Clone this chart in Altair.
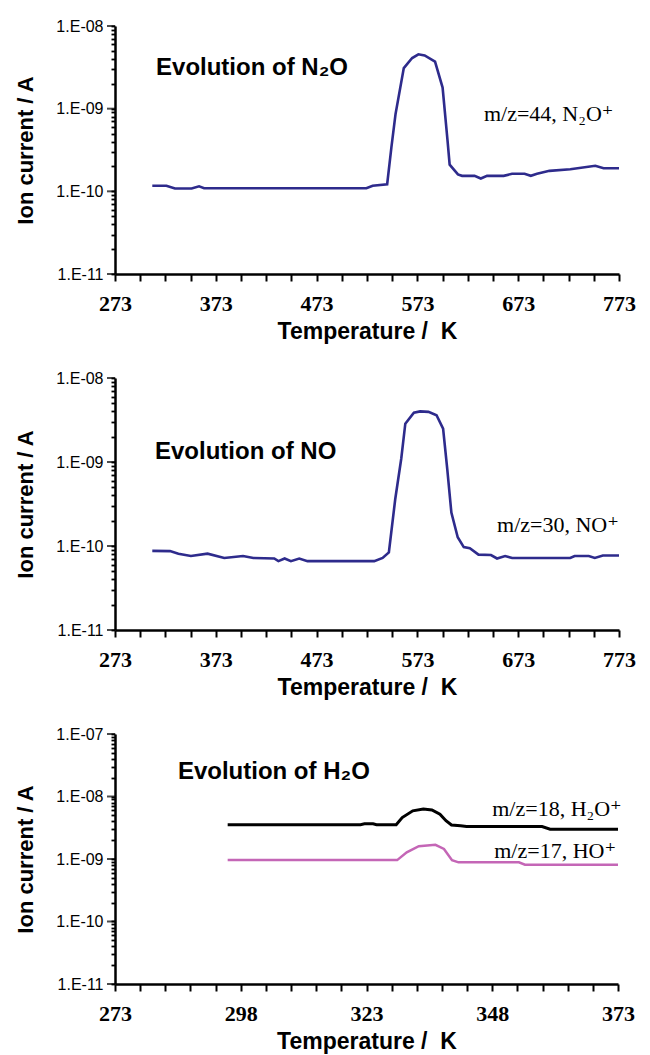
import altair as alt
import pandas as pd

# ---------------- data ----------------
n2o_T = [310, 324, 332.5, 349, 356.4, 361.4, 522.4, 528.6, 543, 547.2, 551.3, 559.5,
         567.8, 574, 580.2, 590.5, 598, 602.9, 605, 613.2, 617.3, 629.7, 635.9, 642.1,
         658.6, 666.9, 679.3, 685.5, 691.7, 704, 724.7, 749.5, 757.7, 773]
n2o_I = [1.17e-10, 1.17e-10, 1.08e-10, 1.08e-10, 1.15e-10, 1.09e-10, 1.09e-10, 1.17e-10,
         1.22e-10, 3.4e-10, 8.6e-10, 3.1e-9, 4.1e-9, 4.55e-9, 4.4e-9, 3.7e-9, 1.8e-9,
         4.1e-10, 2.1e-10, 1.6e-10, 1.54e-10, 1.54e-10, 1.43e-10, 1.54e-10, 1.54e-10,
         1.63e-10, 1.63e-10, 1.54e-10, 1.63e-10, 1.77e-10, 1.85e-10, 2.04e-10, 1.9e-10, 1.9e-10]

no_T = [310, 327.6, 335.9, 348.3, 364.8, 381.4, 400, 410.3, 431, 435.1, 441.3, 447.5,
        455.8, 464, 530.2, 538.5, 544.7, 551, 557, 561, 569.5, 575.7, 584, 592, 598.5,
        602.6, 606.7, 613, 619, 625, 633.6, 646, 652, 660, 667, 724.6, 729, 743, 749, 757, 773]
no_I = [8.75e-11, 8.7e-11, 8.1e-11, 7.6e-11, 8.1e-11, 7.2e-11, 7.6e-11, 7.2e-11, 7.1e-11,
        6.6e-11, 7.1e-11, 6.6e-11, 7.1e-11, 6.6e-11, 6.6e-11, 7.2e-11, 8.4e-11, 3.6e-10,
        1.1e-9, 2.86e-9, 3.86e-9, 4.0e-9, 3.95e-9, 3.6e-9, 2.5e-9, 8.3e-10, 2.5e-10,
        1.27e-10, 9.7e-11, 9.4e-11, 7.9e-11, 7.8e-11, 7.1e-11, 7.6e-11, 7.2e-11, 7.2e-11,
        7.6e-11, 7.6e-11, 7.2e-11, 7.7e-11, 7.7e-11]

h2o_T = [295.4, 321.8, 322.6, 324.3, 325, 328.9, 330.1, 332.2, 334.3, 336, 337.6, 338.8,
         339.9, 341.7, 342.9, 357.9, 359.5, 373]
h2o_I = [3.54e-9, 3.54e-9, 3.65e-9, 3.65e-9, 3.54e-9, 3.54e-9, 4.6e-9, 5.9e-9, 6.3e-9,
         6.1e-9, 5.2e-9, 4.1e-9, 3.5e-9, 3.4e-9, 3.3e-9, 3.3e-9, 3.0e-9, 3.0e-9]

ho_T = [295.4, 329.1, 331, 333.4, 336.7, 338.4, 340, 341.3, 353.3, 354.5, 373]
ho_I = [9.6e-10, 9.6e-10, 1.28e-9, 1.6e-9, 1.69e-9, 1.45e-9, 9.6e-10, 8.85e-10,
        8.85e-10, 8.1e-10, 8.1e-10]

# axis tick positions
x_ticks_wide = list(range(273, 774, 25))
x_ticks_narrow = list(range(273, 374, 5))
y_major_3dec = [1e-11, 1e-10, 1e-9, 1e-8]
y_major_4dec = [1e-11, 1e-10, 1e-9, 1e-8, 1e-7]
y_ticks_3dec = [m * 10.0 ** e for e in range(-11, -8) for m in range(1, 10)] + [1e-8]
y_ticks_4dec = [m * 10.0 ** e for e in range(-11, -7) for m in range(1, 10)] + [1e-7]

# annotations: (T list, I list, text list)
notes_1 = ([313.7], [2.55e-9], ["Evolution of N\u2082O"])
labels_1 = ([639], [7.1e-10], ["m/z=44, N\u2082O\u207a"])
notes_2 = ([312.7], [1.09e-9], ["Evolution of NO"])
labels_2 = ([652], [1.47e-10], ["m/z=30, NO\u207a"])
notes_3 = ([285.5], [1.9e-8], ["Evolution of H\u2082O"])
labels_3 = ([348, 348.4], [4.88e-9, 1.04e-9], ["m/z=18, H\u2082O\u207a", "m/z=17, HO\u207a"])

SANS = "Liberation Sans, Arial, DejaVu Sans"
SERIF = "Liberation Serif, Times New Roman, DejaVu Serif"

BLUE = "#2e2b8c"
PINK = "#c466b6"

Y_LABEL = ("abs(log(datum.value)/LN10 - round(log(datum.value)/LN10)) < 0.001 ? "
           "'1.E-' + (abs(round(log(datum.value)/LN10)) < 10 ? '0' : '') + "
           "abs(round(log(datum.value)/LN10)) : ''")


def make_panel(lines, x_dom, x_vals, step, y_dom, y_vals, y_major, notes, labels, w, h):
    xs = alt.Scale(domain=x_dom, nice=False, zero=False)
    ys = alt.Scale(type="log", domain=y_dom, nice=False)
    xax = alt.Axis(values=x_vals,
                   labelExpr=f"(datum.value - {x_dom[0]}) % {step} == 0 ? format(datum.value, 'd') : ''",
                   title="Temperature / \u00a0K", grid=False,
                   labelFont=SERIF, labelFontWeight="bold", labelFontSize=22,
                   labelPadding=12, labelColor="black",
                   titleFont=SANS, titleFontWeight="bold", titleFontSize=23,
                   titleColor="black", titlePadding=6,
                   tickSize=7, tickWidth=2, tickColor="black",
                   domainColor="black", domainWidth=2.5, labelFlush=False,
                   labelOverlap=False)
    yax = alt.Axis(values=y_vals, labelExpr=Y_LABEL, title="Ion current / A", grid=False,
                   labelFont=SANS, labelFontSize=16, labelColor="black", labelPadding=8,
                   titleFont=SANS, titleFontWeight="bold", titleFontSize=22,
                   titleColor="black", titlePadding=18,
                   tickSize=4, tickWidth=1.8, tickColor="black",
                   domainColor="black", domainWidth=2.5, labelFlush=False,
                   labelOverlap=False)
    X = alt.X("T:Q", scale=xs, axis=xax)
    Y = alt.Y("I:Q", scale=ys, axis=yax)
    layers = []
    # longer ticks at the decades
    mdf = pd.DataFrame({"I": y_major})
    layers.append(alt.Chart(mdf).mark_tick(orient="horizontal", size=8, thickness=2,
                                           color="black").encode(
        y=Y, x=alt.value(-4)))
    for T, I, color, sw in lines:
        df = pd.DataFrame({"T": T, "I": I})
        layers.append(alt.Chart(df).mark_line(color=color, strokeWidth=sw).encode(x=X, y=Y))
    ndf = pd.DataFrame({"T": notes[0], "I": notes[1], "txt": notes[2]})
    layers.append(alt.Chart(ndf).mark_text(align="left", baseline="alphabetic", font=SANS,
                                           fontWeight="bold", fontSize=24, color="black").encode(
        x=X, y=Y, text="txt:N"))
    ldf = pd.DataFrame({"T": labels[0], "I": labels[1], "txt": labels[2]})
    layers.append(alt.Chart(ldf).mark_text(align="left", baseline="alphabetic", font=SERIF,
                                           fontSize=22, color="black").encode(
        x=X, y=Y, text="txt:N"))
    return alt.layer(*layers).properties(width=w, height=h)


p1 = make_panel([(n2o_T, n2o_I, BLUE, 2.6)], [273, 773], x_ticks_wide, 100,
                [1e-11, 1e-8], y_ticks_3dec, y_major_3dec, notes_1, labels_1, 504, 248)
p2 = make_panel([(no_T, no_I, BLUE, 2.6)], [273, 773], x_ticks_wide, 100,
                [1e-11, 1e-8], y_ticks_3dec, y_major_3dec, notes_2, labels_2, 504, 252)
p3 = make_panel([(h2o_T, h2o_I, "black", 3), (ho_T, ho_I, PINK, 2.5)], [273, 373],
                x_ticks_narrow, 25, [1e-11, 1e-7], y_ticks_4dec, y_major_4dec, notes_3,
                labels_3, 503, 250)

chart = alt.vconcat(p1, p2, p3, spacing=104, bounds="flush").configure_view(
    stroke=None).properties(padding={"left": 6, "top": 10, "right": 5, "bottom": 5},
                            background="white")

chart.save("out.html", embed_options={"renderer": "svg", "actions": False})
